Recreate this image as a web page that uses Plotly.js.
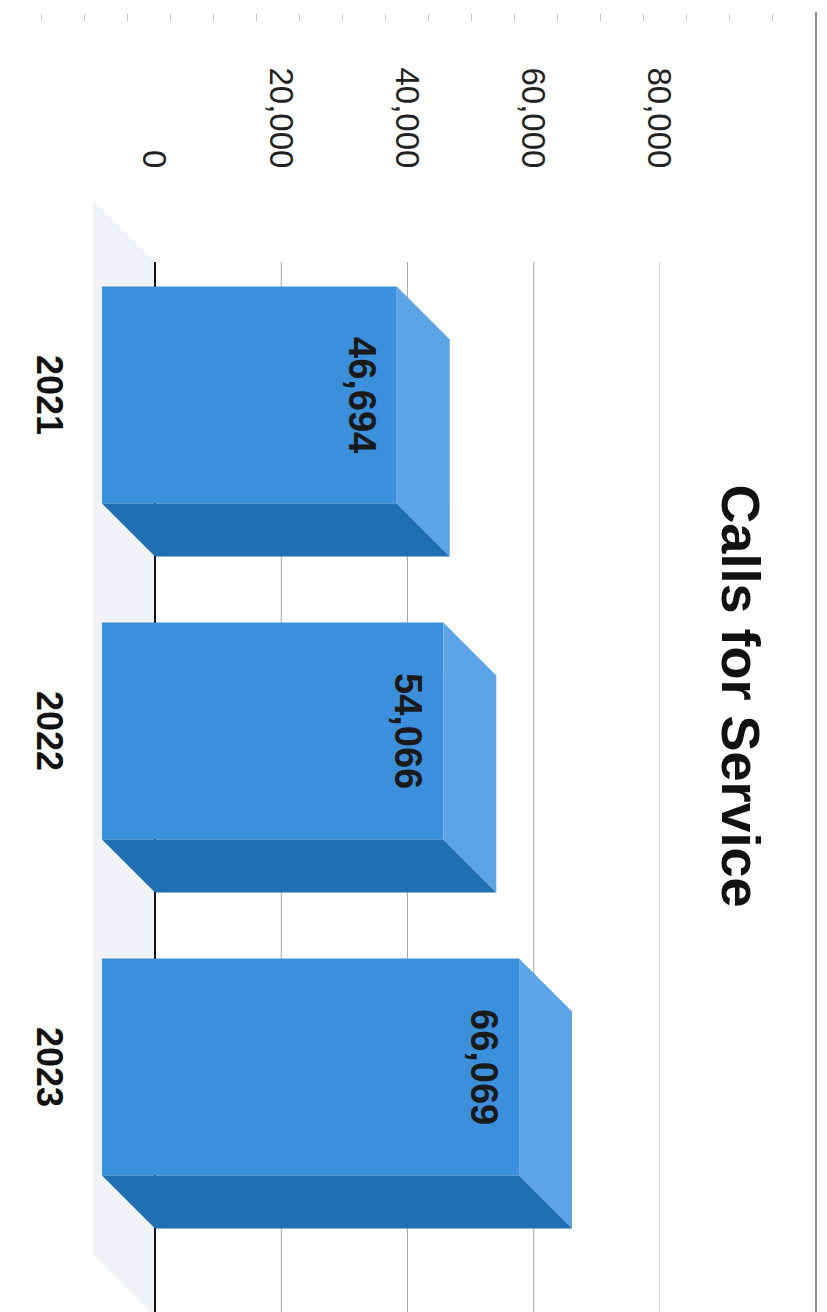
<!DOCTYPE html>
<html>
<head>
<meta charset="utf-8">
<script src="https://cdn.plot.ly/plotly-3.0.1.min.js"></script>
<style>
  html, body { margin: 0; padding: 0; background: #ffffff; overflow: hidden; }
  #wrap { position: absolute; left: 0; top: 0; width: 827px; height: 1312px; overflow: hidden; }
  #chart { position: absolute; left: 0; top: 0; width: 1312px; height: 827px;
           transform-origin: 0 0; transform: translate(827px, 0) rotate(90deg); }
</style>
</head>
<body>
<div id="wrap"><div id="chart"></div></div>
<script>
// ---- data ----
const categories = ['2021', '2022', '2023'];
const calls = [46694, 54066, 66069];
const valueTicks = [0, 20000, 40000, 60000, 80000];
const chartTitle = 'Calls for Service';

// ---- geometry (pixels in the unrotated chart) ----
const W = 1312, H = 827;
const M = { l: 200, r: 0, t: 167, b: 92 };
const plotW = W - M.l - M.r, plotH = H - M.t - M.b;
const PX_PER_CAT = 336;            // category spacing
const firstCatBackPx = 448;        // back centre of first category (from figure left)
const VMAX = 80000;
const zeroBackPx = 672;            // y of value 0 on the back wall (from figure top)
const PX_PER_VAL = (zeroBackPx - M.t) / VMAX;
const depthPx = 53, floorDepthPx = 62;
const barWidthPx = 217;
const backWallStartPx = 262, backWallEndPx = 1317;

const xmin = (M.l - firstCatBackPx) / PX_PER_CAT;
const xmax = (W - M.r - firstCatBackPx) / PX_PER_CAT;
const ymin = -((H - M.b) - zeroBackPx) / PX_PER_VAL;
const dx = depthPx / PX_PER_CAT;
const dy = depthPx / PX_PER_VAL;
const fdx = floorDepthPx / PX_PER_CAT;
const fdy = floorDepthPx / PX_PER_VAL;
const bw = barWidthPx / PX_PER_CAT;
const wallX0 = (backWallStartPx - firstCatBackPx) / PX_PER_CAT;
const wallX1 = (backWallEndPx - firstCatBackPx) / PX_PER_CAT;

const colFront = '#3b8fdb', colTop = '#5ca4e6', colSide = '#1f6fb1';

const frontX = categories.map((c, i) => i - dx);

const traces = [{
  type: 'bar', x: frontX, y: calls, base: calls.map(() => -dy), width: bw,
  marker: { color: colFront, line: { width: 0 } }, hoverinfo: 'skip', showlegend: false
}];
calls.forEach((v, i) => {
  const l = frontX[i] - bw / 2, r = frontX[i] + bw / 2;
  traces.push({
    type: 'scatter', mode: 'lines', fill: 'toself', fillcolor: colTop,
    line: { width: 0, color: colTop }, hoverinfo: 'skip', showlegend: false,
    x: [l, r, r + dx, l + dx, l], y: [v - dy, v - dy, v, v, v - dy]
  });
  traces.push({
    type: 'scatter', mode: 'lines', fill: 'toself', fillcolor: colSide,
    line: { width: 0, color: colSide }, hoverinfo: 'skip', showlegend: false,
    x: [r, r, r + dx, r + dx, r], y: [-dy, v - dy, v, 0, -dy]
  });
});

const shapes = [];
// floor
shapes.push({
  type: 'path', xref: 'x', yref: 'y', layer: 'below',
  path: `M ${wallX0 - fdx},${-fdy} L ${wallX1 - fdx},${-fdy} L ${wallX1},0 L ${wallX0},0 Z`,
  fillcolor: '#f1f3f7', line: { width: 0 }
});
// gridlines on back wall
valueTicks.forEach(t => {
  shapes.push({
    type: 'line', xref: 'x', yref: 'y', layer: 'below',
    x0: wallX0, x1: wallX1, y0: t, y1: t,
    line: { color: t === 0 ? '#111111' : '#a8a8a8', width: t === 0 ? 2 : 1 }
  });
});
// chart border (top edge) and scan ruler marks
const px2paperX = p => (p - M.l) / plotW;
const px2paperY = p => ((H - M.b) - p) / plotH;
shapes.push({
  type: 'line', xref: 'paper', yref: 'paper',
  x0: px2paperX(12), x1: px2paperX(W + 5), y0: px2paperY(11), y1: px2paperY(11),
  line: { color: '#8c8c8c', width: 2 }
});
shapes.push({
  type: 'line', xref: 'paper', yref: 'paper',
  x0: px2paperX(17.5), x1: px2paperX(17.5), y0: px2paperY(54), y1: px2paperY(H + 10),
  line: { color: '#c4c4c4', width: 7, dash: '1px,42px' }
});

const annotations = calls.map((v, i) => ({
  x: frontX[i], y: v - dy, xref: 'x', yref: 'y', yanchor: 'top', yshift: -12,
  text: '<b>' + v.toLocaleString('en-US') + '</b>', showarrow: false,
  font: { family: 'Liberation Sans, Arial, sans-serif', size: 38, color: '#1a1a1a' }
}));

const layout = {
  width: W, height: H,
  margin: M,
  paper_bgcolor: '#ffffff', plot_bgcolor: '#ffffff',
  showlegend: false,
  title: {
    text: '<b>' + chartTitle + '</b>',
    xref: 'container', yref: 'container', x: 696 / W, xanchor: 'center',
    y: 1 - 86 / H, yanchor: 'middle',
    font: { family: 'Liberation Sans, Arial, sans-serif', size: 54, color: '#111111' }
  },
  xaxis: {
    range: [xmin, xmax], tickmode: 'array', tickvals: frontX, ticktext: categories,
    showgrid: false, zeroline: false, showline: false,
    ticks: 'outside', ticklen: 11, tickcolor: 'rgba(0,0,0,0)',
    tickfont: { family: 'Liberation Sans, Arial, sans-serif', size: 36, color: '#111111', weight: 'bold' },
    fixedrange: true
  },
  yaxis: {
    range: [ymin, VMAX], tickmode: 'array', tickvals: valueTicks, tickformat: ',d',
    showgrid: false, zeroline: false, showline: false,
    ticks: 'outside', ticklen: 24, tickcolor: 'rgba(0,0,0,0)',
    tickfont: { family: 'Liberation Sans, Arial, sans-serif', size: 33, color: '#222222' },
    fixedrange: true
  },
  shapes: shapes,
  annotations: annotations
};

Plotly.newPlot('chart', traces, layout, { displayModeBar: false, staticPlot: true });
</script>
</body>
</html>
